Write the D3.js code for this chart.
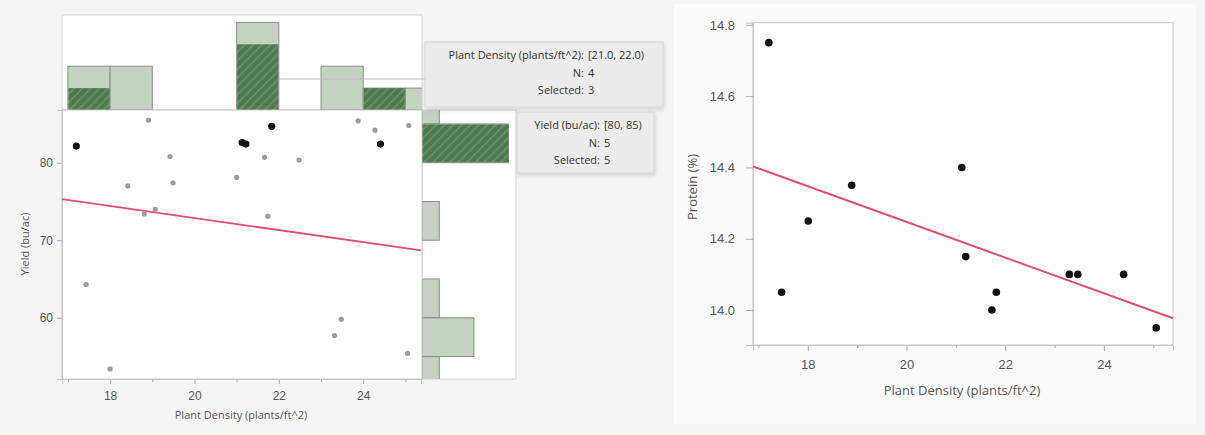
<!DOCTYPE html>
<html>
<head>
<meta charset="utf-8">
<script src="https://cdn.jsdelivr.net/npm/d3@7"></script>
<style>
  body { margin: 0; background: #f5f5f5; }
  svg { display: block; font-family: "Segoe UI", "Open Sans", sans-serif; }
</style>
</head>
<body>
<div id="chart"></div>
<script>
const WIDTH = 1205
const HEIGHT = 435

// --- data ---
const densityTicks = [18, 20, 22, 24]
const densityMinor = [17, 19, 21, 23, 25]
const yieldTicks = [60, 70, 80]
const proteinTicks = [14.0, 14.2, 14.4, 14.6, 14.8]

// yield vs density: selected points (black) and the others (grey)
const selDensity = [17.2, 21.13, 21.22, 21.83, 24.41]
const selYield = [82.15, 82.6, 82.4, 84.7, 82.4]
const otherDensity = [18.91, 19.42, 18.42, 19.49, 21.0, 21.66, 22.48, 23.88, 24.28, 25.08, 18.81, 19.07, 21.74, 17.43, 18.0, 23.48, 23.32, 25.05]
const otherYield = [85.5, 80.8, 77.0, 77.4, 78.1, 80.7, 80.35, 85.4, 84.2, 84.8, 73.4, 74.0, 73.1, 64.3, 53.4, 59.8, 57.7, 55.4]
const yieldFitX = [16.86, 25.37]
const yieldFitY = [75.3, 68.7]

// marginal histograms
const densityBinStart = [17, 18, 21, 23, 24, 25]
const densityCount = [2, 2, 4, 2, 1, 1]
const densitySelected = [1, 0, 3, 0, 1, 0]
const yieldBinStart = [85, 80, 70, 60, 55, 50]
const yieldCount = [1, 5, 1, 1, 3, 1]
const yieldSelected = [0, 5, 0, 0, 0, 0]

// protein vs density
const protDensity = [17.21, 17.47, 18.01, 18.89, 21.12, 21.2, 21.73, 21.82, 23.3, 23.47, 24.4, 25.06]
const protValue = [14.75, 14.05, 14.25, 14.35, 14.4, 14.15, 14.0, 14.05, 14.1, 14.1, 14.1, 13.95]
const protFitX = [16.89, 25.4]
const protFitY = [14.403, 13.977]

// tooltips
const tip1 = [["Plant Density (plants/ft^2):", "[21.0, 22.0)"], ["N:", "4"], ["Selected:", "3"]]
const tip2 = [["Yield (bu/ac):", "[80, 85)"], ["N:", "5"], ["Selected:", "5"]]

const LIGHT = "#c2d3bf"
const DARK = "#4f7a4f"
const RED = "#de5069"
const FRAME = "#c6c6c6"
const TXT = "#555"

const svg = d3.select("#chart")
    .append("svg")
    .attr("width", WIDTH)
    .attr("height", HEIGHT)

// hatch for selected part of bars
const defs = svg.append("defs")
const pat = defs.append("pattern")
    .attr("id", "hatch")
    .attr("patternUnits", "userSpaceOnUse")
    .attr("width", 6)
    .attr("height", 6)
    .attr("patternTransform", "rotate(45)")
pat.append("rect").attr("width", 6).attr("height", 6).attr("fill", DARK)
pat.append("rect").attr("width", 1.6).attr("height", 6).attr("fill", "#6d936b")

const shadow = defs.append("filter").attr("id", "shadow")
    .attr("x", "-10%").attr("y", "-10%").attr("width", "130%").attr("height", "140%")
shadow.append("feDropShadow")
    .attr("dx", 1).attr("dy", 2).attr("stdDeviation", 2)
    .attr("flood-color", "#000").attr("flood-opacity", 0.15)

// right card background
svg.append("rect")
    .attr("x", 674).attr("y", 4)
    .attr("width", 522).attr("height", 420)
    .attr("fill", "#fafafa")

// ================= LEFT: yield vs density =================
const x1 = d3.scaleLinear().domain([16.86, 25.37]).range([62, 421])
const y1 = d3.scaleLinear().domain([52.1, 86.8]).range([379, 110])

// top histogram
const topH = d3.scaleLinear().domain([0, 1]).range([0, 21.9])
const TOP_BASE = 110
defs.append("clipPath").attr("id", "clipTop")
    .append("rect").attr("x", 62).attr("y", 15).attr("width", 360).attr("height", 95)

svg.append("rect")
    .attr("x", 62).attr("y", 15).attr("width", 360).attr("height", 95)
    .attr("fill", "#fff").attr("stroke", "#d4d4d4")

const topG = svg.append("g").attr("clip-path", "url(#clipTop)")
topG.selectAll(".tbar")
    .data(densityBinStart)
    .enter()
    .append("rect")
    .attr("x", d => x1(d))
    .attr("y", (d, i) => TOP_BASE - topH(densityCount[i]))
    .attr("width", d => x1(d + 1) - x1(d))
    .attr("height", (d, i) => topH(densityCount[i]))
    .attr("fill", LIGHT)
    .attr("stroke", "#8d8d8d")
topG.selectAll(".tsel")
    .data(densityBinStart)
    .enter()
    .append("rect")
    .attr("x", d => x1(d) + 0.5)
    .attr("y", (d, i) => TOP_BASE - topH(densitySelected[i]))
    .attr("width", d => x1(d + 1) - x1(d) - 1)
    .attr("height", (d, i) => topH(densitySelected[i]))
    .attr("fill", "url(#hatch)")

// leader line to the tooltip
svg.append("line")
    .attr("x1", x1(22)).attr("x2", 428)
    .attr("y1", 79).attr("y2", 79)
    .attr("stroke", "#bbb")

// right histogram
const sideW = d3.scaleLinear().domain([0, 1]).range([0, 17.3])
const SIDE_BASE = 422
defs.append("clipPath").attr("id", "clipSide")
    .append("rect").attr("x", 422).attr("y", 110).attr("width", 94).attr("height", 269)

svg.append("rect")
    .attr("x", 422).attr("y", 110).attr("width", 94).attr("height", 269)
    .attr("fill", "#fff").attr("stroke", "#d4d4d4")

const sideG = svg.append("g").attr("clip-path", "url(#clipSide)")
sideG.selectAll(".sbar")
    .data(yieldBinStart)
    .enter()
    .append("rect")
    .attr("x", SIDE_BASE)
    .attr("y", d => y1(d + 5))
    .attr("width", (d, i) => sideW(yieldCount[i]))
    .attr("height", d => y1(d) - y1(d + 5))
    .attr("fill", LIGHT)
    .attr("stroke", "#8d8d8d")
sideG.selectAll(".ssel")
    .data(yieldBinStart)
    .enter()
    .append("rect")
    .attr("x", SIDE_BASE)
    .attr("y", d => y1(d + 5) + 0.5)
    .attr("width", (d, i) => sideW(yieldSelected[i]))
    .attr("height", d => y1(d) - y1(d + 5) - 1)
    .attr("fill", "url(#hatch)")

// main scatter frame
svg.append("rect")
    .attr("x", 62).attr("y", 110).attr("width", 360).attr("height", 269)
    .attr("fill", "#fff").attr("stroke", FRAME)

const axX1 = svg.append("g")
    .attr("transform", "translate(0,379)")
    .call(d3.axisBottom(x1).tickValues(densityTicks).tickSize(5).tickPadding(7))
axX1.append("g")
    .call(d3.axisBottom(x1).tickValues(densityMinor).tickSize(3).tickFormat(""))
const axY1 = svg.append("g")
    .attr("transform", "translate(62,0)")
    .call(d3.axisLeft(y1).tickValues(yieldTicks).tickSize(5).tickPadding(4))
;[axX1, axY1].forEach(a => {
  a.selectAll(".domain").attr("stroke", FRAME)
  a.selectAll("line").attr("stroke", "#aaa")
  a.selectAll("text").attr("fill", TXT).style("font-size", "12px")
})

svg.append("text")
    .attr("x", 241).attr("y", 419)
    .attr("text-anchor", "middle")
    .attr("fill", TXT)
    .style("font-size", "11px")
    .text("Plant Density (plants/ft^2)")
svg.append("text")
    .attr("transform", "translate(29,244) rotate(-90)")
    .attr("text-anchor", "middle")
    .attr("fill", TXT)
    .style("font-size", "11px")
    .text("Yield (bu/ac)")

// fit line
svg.append("line")
    .attr("x1", x1(yieldFitX[0])).attr("y1", y1(yieldFitY[0]))
    .attr("x2", x1(yieldFitX[1])).attr("y2", y1(yieldFitY[1]))
    .attr("stroke", RED)
    .attr("stroke-width", 1.8)

svg.append("g").selectAll("circle")
    .data(otherDensity)
    .enter()
    .append("circle")
    .attr("cx", d => x1(d))
    .attr("cy", (d, i) => y1(otherYield[i]))
    .attr("r", 2.6)
    .attr("fill", "#9c9c9c")
svg.append("g").selectAll("circle")
    .data(selDensity)
    .enter()
    .append("circle")
    .attr("cx", d => x1(d))
    .attr("cy", (d, i) => y1(selYield[i]))
    .attr("r", 3.6)
    .attr("fill", "#111")

// tooltip boxes
function tooltip(x, y, w, h, colonX, rows) {
  const g = svg.append("g")
  g.append("rect")
      .attr("x", x).attr("y", y).attr("width", w).attr("height", h)
      .attr("fill", "#ececec").attr("stroke", "#d6d6d6")
      .attr("filter", "url(#shadow)")
  rows.forEach((r, i) => {
    g.append("text")
        .attr("x", colonX).attr("y", y + 17 + i * 17.5)
        .attr("text-anchor", "end")
        .attr("fill", "#333").style("font-size", "11px")
        .text(r[0])
    g.append("text")
        .attr("x", colonX + 4).attr("y", y + 17 + i * 17.5)
        .attr("fill", "#333").style("font-size", "11px")
        .text(r[1])
  })
}
tooltip(425, 42, 238, 65, 584, tip1)
tooltip(517, 112, 137, 61, 600, tip2)

// ================= RIGHT: protein vs density =================
const x2 = d3.scaleLinear().domain([16.89, 25.4]).range([753, 1173])
const y2 = d3.scaleLinear().domain([13.902, 14.806]).range([345, 22.7])

svg.append("rect")
    .attr("x", 753).attr("y", 22.7).attr("width", 420).attr("height", 322.3)
    .attr("fill", "#fff").attr("stroke", FRAME)

const axX2 = svg.append("g")
    .attr("transform", "translate(0,345)")
    .call(d3.axisBottom(x2).tickValues(densityTicks).tickSize(6).tickPadding(9))
axX2.append("g")
    .call(d3.axisBottom(x2).tickValues(densityMinor).tickSize(3).tickFormat(""))
const axY2 = svg.append("g")
    .attr("transform", "translate(753,0)")
    .call(d3.axisLeft(y2).tickValues(proteinTicks).tickSize(7).tickPadding(11).tickFormat(d3.format(".1f")))
;[axX2, axY2].forEach(a => {
  a.selectAll(".domain").attr("stroke", FRAME)
  a.selectAll("line").attr("stroke", "#aaa")
  a.selectAll("text").attr("fill", TXT).style("font-size", "13px")
})

svg.append("text")
    .attr("x", 962).attr("y", 395)
    .attr("text-anchor", "middle")
    .attr("fill", TXT)
    .style("font-size", "13px")
    .text("Plant Density (plants/ft^2)")
svg.append("text")
    .attr("transform", "translate(697,187) rotate(-90)")
    .attr("text-anchor", "middle")
    .attr("fill", TXT)
    .style("font-size", "13px")
    .text("Protein (%)")

svg.append("line")
    .attr("x1", x2(protFitX[0])).attr("y1", y2(protFitY[0]))
    .attr("x2", x2(protFitX[1])).attr("y2", y2(protFitY[1]))
    .attr("stroke", RED)
    .attr("stroke-width", 2)

svg.append("g").selectAll("circle")
    .data(protDensity)
    .enter()
    .append("circle")
    .attr("cx", d => x2(d))
    .attr("cy", (d, i) => y2(protValue[i]))
    .attr("r", 3.8)
    .attr("fill", "#111")
</script>
</body>
</html>
